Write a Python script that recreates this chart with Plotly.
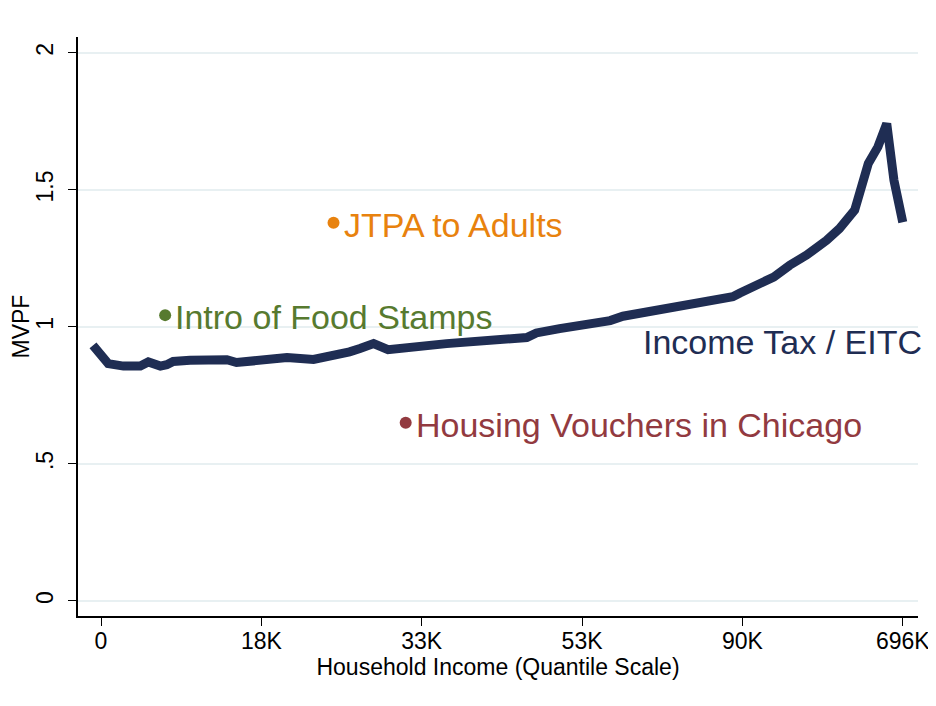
import plotly.graph_objects as go

# Income Tax / EITC curve (x = income quantile, y = MVPF)
line_x = [-1, 0.9, 2.8, 4.9, 5.9, 7.4, 8.2, 9.0, 11.1, 15.7, 16.9, 21.9, 23.2, 26.5,
          28.1, 29.8, 31.0, 32.3, 34.0, 35.8, 37.3, 43.1, 53.1, 54.3, 57.2, 63.5,
          65.1, 78.8, 79.7, 83.9, 85.9, 88.0, 90.5, 92.1, 94.0, 94.8, 95.7, 96.9,
          98.0, 98.9, 100.0]
line_y = [0.933, 0.866, 0.857, 0.857, 0.872, 0.857, 0.862, 0.874, 0.878, 0.880,
          0.870, 0.878, 0.888, 0.881, 0.888, 0.903, 0.909, 0.921, 0.939, 0.917,
          0.923, 0.939, 0.961, 0.978, 0.994, 1.023, 1.039, 1.110, 1.124, 1.182,
          1.225, 1.262, 1.316, 1.359, 1.426, 1.517, 1.596, 1.657, 1.742, 1.535,
          1.382]

# Individual policies
policy_names = ["JTPA to Adults", "Intro of Food Stamps", "Housing Vouchers in Chicago"]
policy_x = [29, 8, 38]
policy_y = [1.38, 1.043, 0.65]
policy_colors = ["#E8820E", "#577A2F", "#923A40"]

line_label = "Income Tax / EITC"
line_label_x = 67.3
line_label_y = 0.944

x_tickvals = [0, 20, 40, 60, 80, 100]
x_ticktext = ["0", "18K", "33K", "53K", "90K", "696K"]
y_tickvals = [0, 0.5, 1, 1.5, 2]
y_ticktext = ["0", ".5", "1", "1.5", "2"]

NAVY = "#1F2D53"
FONT = "Liberation Sans, Arial, Helvetica, sans-serif"

fig = go.Figure()
fig.add_trace(go.Scatter(x=line_x, y=line_y, mode="lines",
                         line=dict(color=NAVY, width=9), showlegend=False,
                         hoverinfo="skip"))
fig.add_trace(go.Scatter(x=policy_x, y=policy_y, mode="markers",
                         marker=dict(color=policy_colors, size=12),
                         showlegend=False, hoverinfo="skip"))

for name, px, py, col in zip(policy_names, policy_x, policy_y, policy_colors):
    fig.add_annotation(x=px, y=py, text=name, showarrow=False, xanchor="left",
                       yanchor="middle", xshift=8, yshift=-2,
                       font=dict(family=FONT, size=34, color=col))

fig.add_annotation(x=line_label_x, y=line_label_y, text=line_label, showarrow=False,
                   xanchor="left", yanchor="middle",
                   font=dict(family=FONT, size=34, color=NAVY))

# y-axis title placed as a rotated annotation
fig.add_annotation(x=0, y=0.5, xref="paper", yref="paper", text="MVPF",
                   showarrow=False, textangle=-90, xanchor="center",
                   yanchor="middle", xshift=-58,
                   font=dict(family=FONT, size=23, color="black"))

fig.update_layout(
    width=928, height=698,
    margin=dict(l=70, r=18, t=29, b=90),
    paper_bgcolor="white", plot_bgcolor="white",
    font=dict(family=FONT, size=23, color="black"),
)
fig.update_xaxes(
    range=[-2.87, 101.9], tickvals=x_tickvals, ticktext=x_ticktext,
    automargin=False,
    showline=True, linecolor="black", linewidth=1.5, mirror=False,
    ticks="outside", ticklen=8, tickcolor="black", tickwidth=1.2,
    ticklabelstandoff=-4,
    showgrid=False, zeroline=False,
    tickfont=dict(family=FONT, size=23, color="black"),
    title=dict(text="Household Income (Quantile Scale)", standoff=2,
               font=dict(family=FONT, size=23, color="black")),
)
fig.update_yaxes(
    range=[-0.055, 2.058], tickvals=y_tickvals, ticktext=y_ticktext,
    tickangle=-90, automargin=False,
    showline=True, linecolor="black", linewidth=1.5,
    ticks="outside", ticklen=8, tickcolor="black", tickwidth=1.2,
    ticklabelstandoff=6,
    showgrid=True, gridcolor="#E8F0F2", gridwidth=1.5, zeroline=False,
    tickfont=dict(family=FONT, size=23, color="black"),
)

fig.write_html("out.html")
